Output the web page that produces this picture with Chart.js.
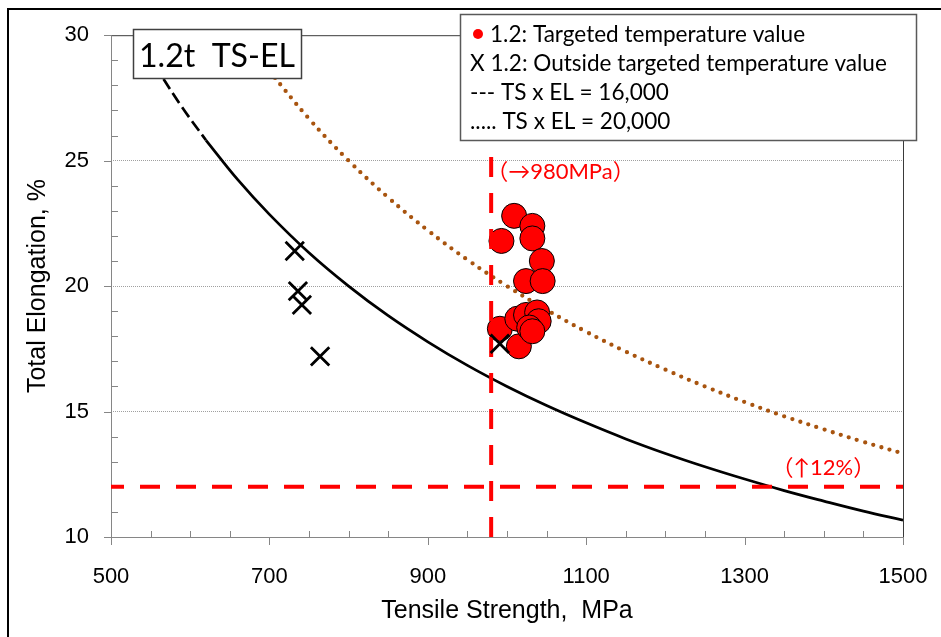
<!DOCTYPE html>
<html>
<head>
<meta charset="utf-8">
<script src="https://cdn.jsdelivr.net/npm/chart.js@4.4.1/dist/chart.umd.min.js"></script>
<style>
  html, body { margin: 0; padding: 0; background: #fff; }
  #tsElChart { display: block; }
</style>
</head>
<body>
<canvas id="tsElChart" width="941" height="637"></canvas>
<script>
// 1.2t sheet: tensile strength vs total elongation
const targetedTS = [1009, 1032, 993, 1032, 1044, 1024, 1045, 991, 1015, 1013, 1024, 1038, 1040, 1028, 1032];
const targetedEL = [22.8, 22.4, 21.8, 21.9, 21.0, 20.2, 20.2, 18.3, 17.6, 18.7, 18.85, 18.95, 18.6, 18.35, 18.2];

const outsideTS = [732, 736, 741, 764, 991];
const outsideEL = [21.4, 19.8, 19.25, 17.2, 17.7];

// TS x EL = 16,000 (dashed where it leaves the data range, solid after)
const ts16Dashed = [533, 560, 590, 620];
const el16Dashed = [30.0, 28.57, 27.12, 25.81];
const ts16 = [620, 660, 700, 750, 800, 850, 900, 950, 1000, 1050, 1100, 1150, 1200, 1250, 1300, 1350, 1400, 1450, 1500];
const el16 = [25.81, 24.24, 22.86, 21.33, 20.00, 18.82, 17.78, 16.84, 16.00, 15.24, 14.55, 13.91, 13.33, 12.80, 12.31, 11.85, 11.43, 11.03, 10.67];

// TS x EL = 20,000
const ts20 = [700, 750, 800, 850, 900, 950, 1000, 1050, 1100, 1150, 1200, 1250, 1300, 1350, 1400, 1450, 1500];
const el20 = [28.57, 26.67, 25.00, 23.53, 22.22, 21.05, 20.00, 19.05, 18.18, 17.39, 16.67, 16.00, 15.38, 14.81, 14.29, 13.79, 13.33];

// target limits
const limitTS = 980;
const limitEL = 12;

const xTicks = [500, 700, 900, 1100, 1300, 1500];
const yTicks = [10, 15, 20, 25, 30];

const legendLines = [
  '1.2: Targeted temperature value',
  'X 1.2: Outside targeted temperature value',
  '--- TS x EL = 16,000',
  '..... TS x EL = 20,000'
];

const toPoints = (xs, ys) => xs.map((v, i) => ({ x: v, y: ys[i] }));

const sans = '"Liberation Sans", Arial, sans-serif';
const label = 'Lato, "Noto Sans CJK JP", sans-serif';

function fitFont(ctx, text, family, width) {
  ctx.font = '100px ' + family;
  return 100 * width / ctx.measureText(text).width;
}

const frameAndNotes = {
  id: 'frameAndNotes',
  beforeDatasetsDraw(chart) {
    const { ctx, chartArea: a, scales: { x, y } } = chart;
    ctx.save();
    // outer frame
    ctx.strokeStyle = '#000';
    ctx.lineWidth = 2;
    ctx.strokeRect(8, 9, 1200, 1200);

    // plot top/right border
    ctx.lineWidth = 1;
    ctx.strokeStyle = '#3a3a3a';
    ctx.beginPath();
    ctx.moveTo(a.left, a.top + 0.5);
    ctx.lineTo(a.right + 0.5, a.top + 0.5);
    ctx.lineTo(a.right + 0.5, a.bottom);
    ctx.stroke();

    // axes + tick marks
    ctx.strokeStyle = '#868686';
    ctx.beginPath();
    ctx.moveTo(a.left + 0.5, a.top);
    ctx.lineTo(a.left + 0.5, a.bottom + 0.5);
    ctx.lineTo(a.right, a.bottom + 0.5);
    y.ticks.forEach(t => {
      const py = Math.round(y.getPixelForValue(t.value)) + 0.5;
      if (yTicks.includes(t.value)) {
        ctx.moveTo(a.left - 7, py); ctx.lineTo(a.left, py);
      } else {
        ctx.moveTo(a.left, py); ctx.lineTo(a.left + 7, py);
      }
    });
    x.ticks.forEach(t => {
      const px = Math.round(x.getPixelForValue(t.value)) + 0.5;
      if (xTicks.includes(t.value)) {
        ctx.moveTo(px, a.bottom); ctx.lineTo(px, a.bottom + 8);
      } else {
        ctx.moveTo(px, a.bottom); ctx.lineTo(px, a.bottom - 6);
      }
    });
    ctx.stroke();
    ctx.restore();
  },
  afterDraw(chart) {
    const { ctx, scales: { x, y } } = chart;
    ctx.save();

    // limit notes
    ctx.fillStyle = '#ff0000';
    ctx.font = '22px ' + label;
    ctx.textBaseline = 'middle';
    ctx.fillText('（→980MPa）', x.getPixelForValue(limitTS) - 5, y.getPixelForValue(24.55));
    ctx.fillText('（↑12%）', x.getPixelForValue(1334), y.getPixelForValue(12.75));

    // chart label box
    ctx.fillStyle = '#fff';
    ctx.fillRect(133, 29, 169, 50);
    ctx.strokeStyle = '#404040';
    ctx.lineWidth = 1.5;
    ctx.strokeRect(133.5, 29.5, 168, 49);
    ctx.fillStyle = '#000';
    ctx.textBaseline = 'alphabetic';
    const tSize = fitFont(ctx, '1.2t  TS-EL', label, 156);
    ctx.font = tSize + 'px ' + label;
    ctx.fillText('1.2t  TS-EL', 139, 67);

    // legend box
    ctx.fillStyle = '#fff';
    ctx.fillRect(460, 14, 457, 127);
    ctx.strokeStyle = '#595959';
    ctx.strokeRect(460.5, 14.5, 456, 126);
    const lSize = fitFont(ctx, legendLines[1], label, 417);
    ctx.font = lSize + 'px ' + label;
    ctx.fillStyle = '#000';
    const base = [42, 71, 100, 129];
    legendLines.forEach((txt, i) => {
      ctx.fillText(txt, i === 0 ? 490 : 470, base[i]);
    });
    ctx.fillStyle = '#ff0000';
    ctx.beginPath();
    ctx.arc(478, 34, 5, 0, Math.PI * 2);
    ctx.fill();
    ctx.restore();
  }
};

const ctx = document.getElementById('tsElChart').getContext('2d');

const tsElChart = new Chart(ctx, {
  type: 'scatter',
  data: {
    datasets: [
      {
        label: 'Outside targeted',
        data: toPoints(outsideTS, outsideEL),
        pointStyle: 'crossRot',
        pointRadius: 13,
        borderColor: '#000',
        borderWidth: 2.8,
        showLine: false
      },
      {
        label: 'TS limit',
        type: 'line',
        data: [{ x: limitTS, y: 10 }, { x: limitTS, y: 30 }],
        borderColor: '#ff0000',
        borderWidth: 4,
        borderDash: [20, 16],
        pointRadius: 0
      },
      {
        label: 'EL limit',
        type: 'line',
        data: [{ x: 500, y: limitEL }, { x: 1500, y: limitEL }],
        borderColor: '#ff0000',
        borderWidth: 4,
        borderDash: [20, 16],
        borderDashOffset: 7,
        pointRadius: 0
      },
      {
        label: 'Targeted',
        data: toPoints(targetedTS, targetedEL),
        pointStyle: 'circle',
        pointRadius: 12.5,
        backgroundColor: '#ff0000',
        borderColor: '#000',
        borderWidth: 1,
        showLine: false
      },
      {
        label: 'TS x EL = 20,000',
        type: 'line',
        data: toPoints(ts20, el20),
        borderColor: '#a8540f',
        borderWidth: 4.3,
        borderDash: [0, 8.5],
        borderCapStyle: 'round',
        tension: 0.4,
        pointRadius: 0
      },
      {
        label: 'TS x EL = 16,000',
        type: 'line',
        data: toPoints(ts16, el16),
        borderColor: '#000',
        borderWidth: 2.7,
        tension: 0.4,
        pointRadius: 0
      },
      {
        label: 'TS x EL = 16,000 (ext)',
        type: 'line',
        data: toPoints(ts16Dashed, el16Dashed),
        borderColor: '#000',
        borderWidth: 2.7,
        borderDash: [12, 5],
        tension: 0.4,
        pointRadius: 0
      }
    ]
  },
  options: {
    responsive: false,
    devicePixelRatio: 1,
    animation: false,
    layout: { padding: { top: 35, right: 38, bottom: 0, left: 0 } },
    plugins: {
      legend: { display: false },
      tooltip: { enabled: false }
    },
    scales: {
      x: {
        type: 'linear',
        min: 500,
        max: 1500,
        afterFit(s) {
          s.height = 100;
          s.paddingLeft = 0;
          s.paddingRight = 0;
        },
        grid: { display: false, drawTicks: false },
        border: { display: false },
        ticks: {
          stepSize: 50,
          autoSkip: false,
          maxRotation: 0,
          padding: 27,
          color: '#000',
          font: { family: sans, size: 22 },
          callback: v => xTicks.includes(v) ? v : ''
        },
        title: {
          display: true,
          text: 'Tensile Strength,  MPa',
          color: '#000',
          font: { family: sans, size: 25 },
          padding: { top: 11, bottom: 11 }
        }
      },
      y: {
        type: 'linear',
        min: 10,
        max: 30,
        afterFit(s) { s.width = 111; },
        grid: {
          drawTicks: false,
          lineWidth: 1,
          color: c => (c.tick && [15, 20, 25].includes(c.tick.value)) ? '#a0a0a0' : 'rgba(0,0,0,0)'
        },
        border: { display: false, dash: [1, 1] },
        ticks: {
          stepSize: 1,
          autoSkip: false,
          padding: 22,
          color: '#000',
          font: { family: sans, size: 22 },
          callback: v => yTicks.includes(v) ? v : ''
        },
        title: {
          display: true,
          text: 'Total Elongation, %',
          color: '#000',
          font: { family: sans, size: 25 },
          padding: { top: 23, bottom: 23 }
        }
      }
    }
  },
  plugins: [frameAndNotes]
});
</script>
</body>
</html>
